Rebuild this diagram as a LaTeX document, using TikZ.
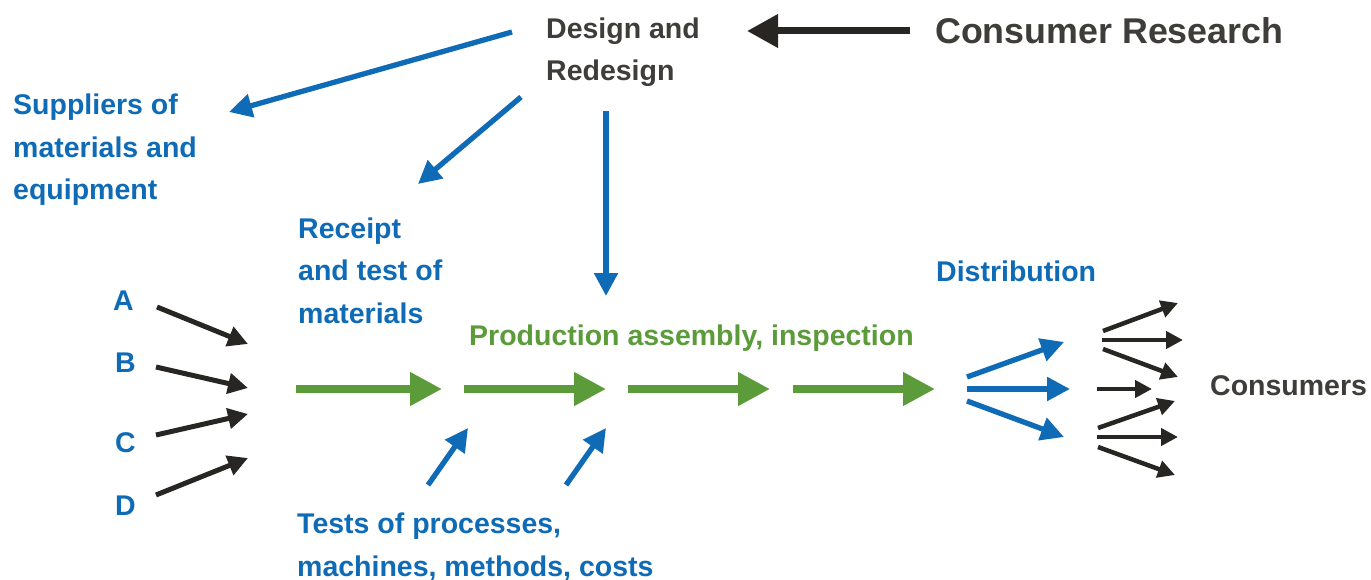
\documentclass[tikz,border=0pt]{standalone}
\usepackage{fontspec}
\setmainfont{Liberation Sans}
\usetikzlibrary{arrows.meta}
\definecolor{cblue}{RGB}{15,107,182}
\definecolor{cgreen}{RGB}{91,155,58}
\definecolor{cdark}{RGB}{62,61,58}
\definecolor{carrow}{RGB}{40,38,35}
\begin{document}
\begin{tikzpicture}[x=1pt,y=-1pt,
  lbl/.style={inner sep=0pt, anchor=base west, font=\bfseries\fontsize{28.5}{42.5}\selectfont, align=left},
  bluetxt/.style={lbl, text=cblue},
  darktxt/.style={lbl, text=cdark},
  greentxt/.style={lbl, text=cgreen},
  barrow/.style={draw=cblue, line width=5.3pt, -{Triangle[length=23pt,width=23pt]}},
  karrow/.style={draw=carrow, line width=5pt, -{Triangle[length=20pt,width=20pt]}},
  ksmall/.style={draw=carrow, line width=4.5pt, -{Triangle[length=17pt,width=17pt]}},
  kbig/.style={draw=carrow, line width=7pt, -{Triangle[length=31pt,width=32pt]}},
  garrow/.style={draw=cgreen, line width=7.5pt, -{Triangle[length=32pt,width=32pt]}}
]
\useasboundingbox (0,0) rectangle (1371,580);

% labels (multi-line nodes: base = last line)
\node[darktxt] (design) at (546,81) {Design and\\Redesign};
\node[darktxt, font=\bfseries\fontsize{35.8}{42}\selectfont] (research) at (935,44) {Consumer Research};
\node[bluetxt] (suppliers) at (13,200) {Suppliers of\\materials and\\equipment};
\node[bluetxt] (receipt) at (298,323) {Receipt\\and test of\\materials};
\node[bluetxt] (distribution) at (936,281) {Distribution};
\node[greentxt] (production) at (469,345) {Production assembly, inspection};
\node[bluetxt] (A) at (113,310) {A};
\node[bluetxt] (B) at (115,372) {B};
\node[bluetxt] (C) at (115,452) {C};
\node[bluetxt] (D) at (115,515) {D};
\node[darktxt] (consumers) at (1210,395) {Consumers};
\node[bluetxt] (tests) at (297,576) {Tests of processes,\\machines, methods, costs};

% coordinates
\coordinate (cr1) at (910,31);  \coordinate (cr2) at (747,31);
\coordinate (s1) at (512,32);   \coordinate (s2) at (229,112);
\coordinate (r1) at (521,97);   \coordinate (r2) at (418,184);
\coordinate (p1) at (606,111);  \coordinate (p2) at (606,296);
\coordinate (ta1) at (428,485); \coordinate (ta2) at (468,428);
\coordinate (tb1) at (566,485); \coordinate (tb2) at (606,428);
\coordinate (g0) at (296,389);  \coordinate (g1) at (442,389);
\coordinate (g1s) at (464,389); \coordinate (g2) at (606,389);
\coordinate (g2s) at (628,389); \coordinate (g3) at (770,389);
\coordinate (g3s) at (793,389); \coordinate (g4) at (935,389);
\coordinate (da1) at (967,377); \coordinate (da2) at (1064,342);
\coordinate (db1) at (967,389); \coordinate (db2) at (1070,389);
\coordinate (dc1) at (967,401); \coordinate (dc2) at (1064,437);
\coordinate (a1) at (157,307);  \coordinate (a2) at (248,344);
\coordinate (b1) at (156,367);  \coordinate (b2) at (248,388);
\coordinate (c1) at (156,435);  \coordinate (c2) at (248,414);
\coordinate (d1) at (156,495);  \coordinate (d2) at (248,458);
\coordinate (k1a) at (1103,331); \coordinate (k1b) at (1178,303);
\coordinate (k2a) at (1102,340); \coordinate (k2b) at (1183,340);
\coordinate (k3a) at (1103,349); \coordinate (k3b) at (1178,377);
\coordinate (k4a) at (1097,389); \coordinate (k4b) at (1152,389);
\coordinate (k5a) at (1098,428); \coordinate (k5b) at (1175,401);
\coordinate (k6a) at (1097,437); \coordinate (k6b) at (1178,437);
\coordinate (k7a) at (1098,447); \coordinate (k7b) at (1175,475);

% arrows
\draw[kbig] (cr1) -- (cr2);
\draw[barrow] (s1) -- (s2);
\draw[barrow] (r1) -- (r2);
\draw[barrow] (p1) -- (p2);
\draw[barrow] (ta1) -- (ta2);
\draw[barrow] (tb1) -- (tb2);
\draw[garrow] (g0) -- (g1);
\draw[garrow] (g1s) -- (g2);
\draw[garrow] (g2s) -- (g3);
\draw[garrow] (g3s) -- (g4);
\draw[barrow] (da1) -- (da2);
\draw[barrow] (db1) -- (db2);
\draw[barrow] (dc1) -- (dc2);
\draw[karrow] (a1) -- (a2);
\draw[karrow] (b1) -- (b2);
\draw[karrow] (c1) -- (c2);
\draw[karrow] (d1) -- (d2);
\draw[ksmall] (k1a) -- (k1b);
\draw[ksmall] (k2a) -- (k2b);
\draw[ksmall] (k3a) -- (k3b);
\draw[ksmall] (k4a) -- (k4b);
\draw[ksmall] (k5a) -- (k5b);
\draw[ksmall] (k6a) -- (k6b);
\draw[ksmall] (k7a) -- (k7b);
\end{tikzpicture}
\end{document}
